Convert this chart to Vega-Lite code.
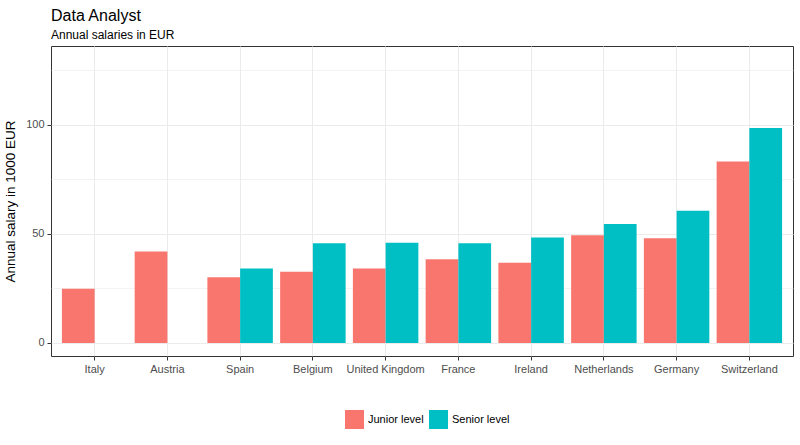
{
  "$schema": "https://vega.github.io/schema/vega-lite/v6.json",
  "autosize": "none",
  "padding": {"left": 51, "top": 46, "right": 7, "bottom": 89},
  "width": 742,
  "height": 310,
  "title": {
    "text": "Data Analyst",
    "subtitle": "Annual salaries in EUR",
    "anchor": "start",
    "frame": "group",
    "font": "Liberation Sans",
    "subtitleFont": "Liberation Sans",
    "fontSize": 16,
    "subtitleFontSize": 12,
    "fontWeight": "normal",
    "color": "#000000",
    "subtitleColor": "#000000",
    "offset": 5,
    "subtitlePadding": 6
  },
  "data": {
    "values": [
      {"country": "Italy", "level": "Junior level", "salary": 24.8},
      {"country": "Austria", "level": "Junior level", "salary": 41.9},
      {"country": "Spain", "level": "Junior level", "salary": 30.1},
      {"country": "Spain", "level": "Senior level", "salary": 34.1},
      {"country": "Belgium", "level": "Junior level", "salary": 32.7},
      {"country": "Belgium", "level": "Senior level", "salary": 45.7},
      {"country": "United Kingdom", "level": "Junior level", "salary": 34.1},
      {"country": "United Kingdom", "level": "Senior level", "salary": 45.9},
      {"country": "France", "level": "Junior level", "salary": 38.4},
      {"country": "France", "level": "Senior level", "salary": 45.7},
      {"country": "Ireland", "level": "Junior level", "salary": 36.8},
      {"country": "Ireland", "level": "Senior level", "salary": 48.3},
      {"country": "Netherlands", "level": "Junior level", "salary": 49.4},
      {"country": "Netherlands", "level": "Senior level", "salary": 54.6},
      {"country": "Germany", "level": "Junior level", "salary": 48.0},
      {"country": "Germany", "level": "Senior level", "salary": 60.6},
      {"country": "Switzerland", "level": "Junior level", "salary": 83.2},
      {"country": "Switzerland", "level": "Senior level", "salary": 98.6}
    ]
  },
  "mark": {"type": "bar"},
  "encoding": {
    "x": {
      "field": "country",
      "type": "nominal",
      "sort": null,
      "title": null,
      "scale": {"paddingInner": 0.1, "paddingOuter": 0.15},
      "axis": {
        "bandPosition": 0.5,
        "labelAngle": 0,
        "labelFontSize": 11,
        "labelPadding": 3,
        "tickSize": 4
      }
    },
    "xOffset": {
      "field": "level",
      "type": "nominal",
      "scale": {"domain": ["Junior level", "Senior level"], "paddingInner": 0, "paddingOuter": 0}
    },
    "y": {
      "field": "salary",
      "type": "quantitative",
      "title": "Annual salary in 1000 EUR",
      "scale": {"domain": [-6, 136.2], "nice": false, "zero": false},
      "axis": {
        "values": [0, 25, 50, 75, 100, 125],
        "labelExpr": "datum.value % 50 === 0 ? datum.label : ''",
        "tickOpacity": {"condition": {"test": "datum.value % 50 === 0", "value": 1}, "value": 0},
        "gridWidth": {"condition": {"test": "datum.value % 50 === 0", "value": 1}, "value": 0.6},
        "labelFontSize": 11,
        "labelPadding": 3,
        "tickSize": 4,
        "titleFontSize": 13.5,
        "titlePadding": 8
      }
    },
    "color": {
      "field": "level",
      "type": "nominal",
      "title": null,
      "scale": {"domain": ["Junior level", "Senior level"], "range": ["#F8766D", "#00BFC4"]},
      "legend": {
        "orient": "none",
        "legendX": 294,
        "legendY": 364,
        "direction": "horizontal",
        "symbolType": "square",
        "symbolSize": 361,
        "symbolStrokeWidth": 0,
        "symbolOpacity": 1,
        "labelFontSize": 11,
        "labelOffset": 4,
        "columnPadding": 5
      }
    }
  },
  "config": {
    "font": "Liberation Sans",
    "view": {"stroke": "#333333", "strokeWidth": 1},
    "axis": {
      "domain": false,
      "grid": true,
      "gridColor": "#EBEBEB",
      "labelColor": "#4D4D4D",
      "labelFont": "Liberation Sans",
      "tickColor": "#333333",
      "titleColor": "#000000",
      "titleFont": "Liberation Sans",
      "titleFontWeight": "normal"
    },
    "legend": {
      "labelColor": "#000000",
      "labelFont": "Liberation Sans"
    }
  }
}
